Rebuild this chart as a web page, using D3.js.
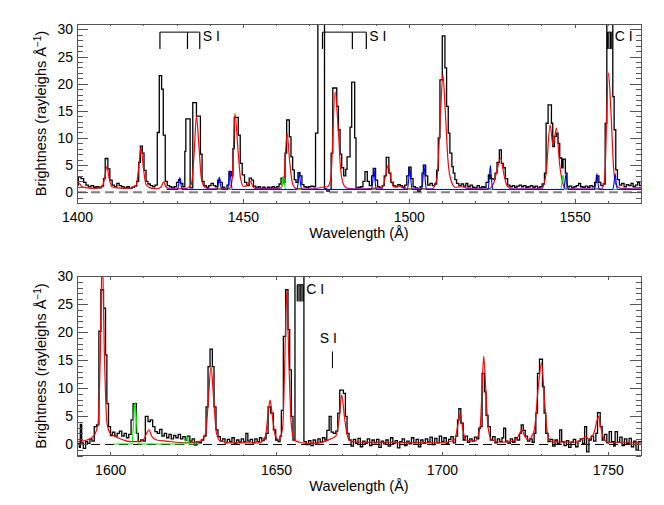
<!DOCTYPE html>
<html>
<head>
<meta charset="utf-8">
<script src="https://cdn.jsdelivr.net/npm/d3@7"></script>
<style>
  body { margin: 0; background: #fff; }
  text { font-family: 'Liberation Sans', Arial, Helvetica, sans-serif; fill: #000; }
</style>
</head>
<body>
<svg id="chart" width="664" height="505"></svg>
<script>
// ---- top panel (1400-1570 A) ----
// observed spectrum, histogram steps: [bin start wavelength, brightness]
var topObs = [
  [1400.0, 1.3], [1400.4, 2.8], [1401.2, 2.5], [1402.0, 1.8], [1402.7, 1.3], [1403.4, 1.0],
  [1404.2, 1.2], [1405.0, 0.9], [1405.8, 1.0], [1406.6, 0.8], [1407.3, 1.1], [1408.0, 2.5],
  [1408.5, 6.2], [1409.3, 4.3], [1409.9, 2.2], [1410.6, 1.3], [1411.3, 1.0], [1412.0, 1.6],
  [1412.7, 1.2], [1413.4, 1.0], [1414.2, 0.8], [1415.0, 1.0], [1415.8, 0.7], [1416.6, 0.9],
  [1417.3, 1.1], [1418.0, 2.0], [1418.6, 5.5], [1419.1, 8.5], [1419.7, 7.2], [1420.2, 4.0],
  [1420.8, 2.0], [1421.4, 1.5], [1422.1, 1.2], [1422.8, 1.0], [1423.5, 1.3], [1424.2, 11.0],
  [1424.8, 21.5], [1425.5, 19.0], [1426.0, 10.5], [1426.6, 2.0], [1427.2, 1.2], [1427.9, 1.0],
  [1428.6, 0.8], [1429.3, 1.0], [1430.0, 1.8], [1430.6, 2.3], [1431.2, 1.6], [1431.9, 1.0],
  [1432.5, 7.5], [1432.8, 13.5], [1434.1, 0.8], [1434.9, 16.5], [1436.0, 14.0], [1437.2, 7.0],
  [1437.7, 2.0], [1438.3, 1.2], [1439.0, 0.9], [1439.7, 1.2], [1440.4, 1.6], [1441.1, 1.2],
  [1441.8, 1.0], [1442.4, 2.2], [1443.1, 1.8], [1443.8, 0.9], [1444.5, 0.6], [1445.2, 1.3],
  [1445.8, 3.8], [1446.5, 3.0], [1447.0, 8.0], [1447.4, 13.8], [1448.6, 10.5], [1449.2, 5.3],
  [1449.8, 3.2], [1450.5, 1.8], [1451.2, 1.2], [1451.9, 2.6], [1452.6, 2.2], [1453.2, 1.1],
  [1453.9, 0.8], [1454.6, 1.0], [1455.3, 0.7], [1456.0, 0.9], [1456.7, 0.6], [1457.4, 0.9],
  [1458.1, 0.8], [1458.8, 1.0], [1459.5, 0.8], [1460.2, 1.0], [1460.9, 1.5], [1461.5, 2.6],
  [1462.2, 1.8], [1462.7, 7.2], [1463.2, 13.3], [1464.0, 10.2], [1464.5, 6.5], [1465.0, 4.1],
  [1465.5, 2.3], [1466.0, 1.8], [1466.6, 3.6], [1467.2, 3.0], [1467.8, 1.4], [1468.4, 1.0],
  [1469.1, 0.9], [1469.8, 1.0], [1470.5, 1.1], [1471.2, 1.0], [1471.9, 10.9], [1472.6, 45],
  [1474.6, 0.6], [1475.3, 0.2], [1476.0, 0.5], [1476.6, 7.2], [1477.1, 19.2], [1478.3, 15.8],
  [1478.8, 11.5], [1479.3, 7.0], [1479.8, 4.5], [1480.4, 3.0], [1481.0, 4.2], [1481.4, 6.5],
  [1482.3, 12.0], [1482.8, 20.3], [1483.7, 10.0], [1484.1, 0.8], [1484.8, 0.9], [1485.5, 1.0],
  [1486.2, 2.0], [1486.8, 3.8], [1487.5, 2.0], [1488.1, 1.2], [1488.8, 3.0], [1489.3, 4.4],
  [1490.0, 2.2], [1490.6, 1.0], [1491.3, 0.8], [1492.0, 1.2], [1492.6, 3.0], [1493.2, 6.4],
  [1494.0, 3.5], [1494.6, 1.8], [1495.3, 1.2], [1496.0, 1.0], [1496.7, 1.4], [1497.4, 1.2],
  [1498.1, 0.9], [1498.8, 1.3], [1499.4, 3.0], [1500.0, 4.6], [1500.7, 2.5], [1501.3, 1.0],
  [1502.0, 0.8], [1502.7, 0.2], [1503.4, 1.0], [1504.0, 3.5], [1504.4, 5.0], [1505.1, 3.0],
  [1505.7, 1.3], [1506.4, 1.6], [1507.1, 1.2], [1507.8, 1.5], [1508.4, 4.0], [1508.9, 10.0],
  [1509.4, 20.7], [1510.1, 28.8], [1510.9, 22.9], [1511.4, 15.8], [1511.9, 10.9], [1512.4, 7.2],
  [1513.0, 4.7], [1513.4, 3.5], [1513.9, 2.3], [1514.4, 1.6], [1515.1, 1.2], [1515.8, 1.5],
  [1516.5, 1.1], [1517.2, 1.6], [1517.8, 1.0], [1518.5, 1.3], [1519.2, 0.9], [1519.9, 0.8],
  [1520.6, 1.2], [1521.3, 0.8], [1522.0, 1.0], [1522.7, 0.9], [1523.3, 1.8], [1524.0, 3.2],
  [1524.7, 2.5], [1525.3, 2.4], [1526.0, 3.5], [1526.6, 5.5], [1527.3, 7.8], [1527.9, 5.3],
  [1528.5, 4.5], [1529.1, 2.5], [1529.8, 1.3], [1530.5, 1.0], [1531.2, 1.2], [1531.9, 0.9],
  [1532.6, 1.1], [1533.3, 1.3], [1534.0, 1.0], [1534.6, 1.2], [1535.3, 0.9], [1536.0, 1.0],
  [1536.7, 1.2], [1537.4, 0.9], [1538.1, 1.1], [1538.8, 0.8], [1539.5, 1.0], [1540.2, 1.5],
  [1540.9, 3.5], [1541.4, 12.7], [1542.0, 16.1], [1543.0, 12.7], [1543.4, 8.4], [1543.9, 10.3],
  [1544.5, 10.9], [1545.0, 9.0], [1545.5, 6.3], [1546.1, 4.5], [1546.5, 6.1], [1547.2, 3.5],
  [1547.7, 1.0], [1548.4, 1.1], [1549.1, 0.8], [1549.8, 1.0], [1550.5, 1.2], [1551.2, 1.6],
  [1551.8, 1.0], [1552.5, 0.9], [1553.2, 1.1], [1553.9, 0.9], [1554.6, 1.2], [1555.3, 1.0],
  [1556.0, 1.8], [1556.6, 3.0], [1557.3, 1.8], [1557.9, 1.2], [1558.6, 1.5], [1559.2, 12.7],
  [1559.7, 45], [1561.5, 17.6], [1561.9, 11.5], [1562.4, 4.1], [1562.9, 2.3], [1563.5, 1.3],
  [1564.2, 1.6], [1564.9, 1.0], [1565.6, 1.4], [1566.3, 1.2], [1567.0, 1.6], [1567.6, 1.0],
  [1568.3, 1.3], [1569.0, 1.8], [1569.6, 1.2], [1570.0, 1.2]
]

// total model fit (red)
var topModel = [
  [1400.0, 1.2], [1400.6, 1.6], [1401.5, 1.0], [1403, 0.8], [1406, 0.7], [1407.5, 0.9],
  [1408.3, 2.5], [1409.0, 4.7], [1409.7, 2.5], [1410.5, 1.0], [1412, 0.8], [1416, 0.7],
  [1417.8, 1.2], [1418.6, 4.5], [1419.3, 8.2], [1420.0, 4.5], [1420.8, 1.4], [1422, 0.8],
  [1424, 0.6], [1425.4, 1.0], [1426.1, 1.9], [1426.8, 1.0], [1428, 0.6], [1433, 0.7],
  [1434.5, 1.5], [1435.3, 7], [1436.0, 14.0], [1436.7, 9], [1437.5, 2.5], [1438.5, 0.9],
  [1440, 0.6], [1446, 0.7], [1446.8, 2.5], [1447.6, 14.5], [1448.5, 8], [1449.3, 2.5],
  [1450.3, 1.0], [1451.5, 1.4], [1452.3, 2.0], [1453.0, 1.0], [1454, 0.6], [1461, 0.7],
  [1462.3, 1.8], [1463.3, 10.8], [1464.2, 5], [1465.0, 1.5], [1466, 0.7], [1471, 0.6],
  [1474, 0.9], [1475.5, 1.0], [1476.5, 2.5], [1477.8, 18.5], [1478.7, 12], [1479.5, 4],
  [1480.5, 1.2], [1481.5, 0.7], [1486, 0.6], [1489, 0.7], [1492, 0.8], [1493.0, 3],
  [1493.8, 5.0], [1494.6, 2.5], [1495.5, 0.9], [1496.8, 1.2], [1497.5, 1.0], [1499, 0.6],
  [1507, 0.6], [1508.5, 2.5], [1509.6, 15], [1510.3, 21.6], [1511.0, 15], [1511.8, 6],
  [1512.8, 2], [1514, 0.9], [1516, 1.0], [1517, 0.8], [1520, 0.6], [1524, 0.6],
  [1525.5, 1.5], [1526.6, 4], [1527.7, 6.3], [1528.6, 3.5], [1529.6, 1.2], [1531, 0.6],
  [1540, 0.6], [1541.4, 3.5], [1542.6, 12.4], [1543.5, 8.5], [1544.5, 11.8], [1545.5, 5],
  [1546.5, 1.5], [1547.5, 0.6], [1558, 0.6], [1559, 2], [1560.2, 22.0], [1561.0, 14],
  [1561.8, 4], [1562.6, 1.2], [1564, 0.7], [1570, 0.6]
]

// single components (blue, green)
var topBlue = [
  [1427, 0.5], [1430.3, 0.5], [1430.7, 1.6], [1431.0, 2.7], [1431.3, 1.6], [1431.7, 0.5],
  [1442.2, 0.5], [1442.6, 1.6], [1442.9, 2.8], [1443.2, 1.6], [1443.6, 0.5],
  [1445.4, 0.5], [1445.8, 2.2], [1446.1, 4.0], [1446.4, 2.2], [1446.8, 0.5],
  [1466.3, 0.5], [1466.7, 2.0], [1467.0, 3.7], [1467.3, 2.0], [1467.7, 0.5],
  [1488.8, 0.5], [1489.2, 2.4], [1489.5, 4.4], [1489.8, 2.4], [1490.2, 0.5],
  [1499.6, 0.5], [1500.0, 2.5], [1500.3, 4.6], [1500.6, 2.5], [1501.0, 0.5],
  [1503.9, 0.5], [1504.3, 2.7], [1504.6, 5.0], [1504.9, 2.7], [1505.3, 0.5],
  [1523.9, 0.5], [1524.3, 2.7], [1524.6, 4.9], [1524.9, 2.7], [1525.3, 0.5],
  [1546.7, 0.5], [1547.1, 1.9], [1547.4, 3.4], [1547.7, 1.9], [1548.1, 0.5],
  [1556.0, 0.5], [1556.4, 1.9], [1556.7, 3.4], [1557.0, 1.9], [1557.4, 0.5],
  [1561.5, 0.5], [1561.9, 1.9], [1562.2, 3.4], [1562.5, 1.9], [1562.9, 0.5], [1570, 0.5]
]
var topGreen = [
  [1440, 0.5], [1461.5, 0.5], [1461.9, 1.7], [1462.2, 2.9], [1462.5, 1.7], [1462.9, 0.5],
  [1545.8, 0.5], [1546.2, 1.9], [1546.5, 3.2], [1546.8, 1.9], [1547.2, 0.5], [1570, 0.5]
]

// ---- bottom panel (1590-1760 A) ----
var botObs = [
  [1590.0, 0.2], [1590.7, -0.5], [1591.0, 3.6], [1591.4, 0.3], [1591.9, -0.7], [1592.6, 0.5],
  [1593.2, 0.2], [1593.9, 1.0], [1594.5, 0.6], [1595.2, 3.2], [1595.9, 3.5], [1596.6, 20.2],
  [1597.2, 27.6], [1598.0, 24.3], [1598.6, 16.0], [1599.0, 7.3], [1599.5, 3.2], [1600.1, 1.6],
  [1600.7, 2.2], [1601.4, 1.5], [1602.1, 2.0], [1602.8, 2.4], [1603.5, 1.5], [1604.2, 2.0],
  [1604.9, 1.2], [1605.6, 1.8], [1606.3, 4.4], [1606.9, 7.3], [1607.9, 2.0], [1608.5, 0.5],
  [1609.2, 0.8], [1609.9, 0.6], [1610.6, 5.0], [1611.4, 4.1], [1612.1, 4.4], [1612.8, 3.2],
  [1613.5, 2.3], [1614.2, 2.0], [1614.9, 2.7], [1615.6, 1.5], [1616.3, 2.0], [1617.0, 1.2],
  [1617.7, 1.8], [1618.4, 1.0], [1619.1, 1.6], [1619.8, 1.2], [1620.5, 1.8], [1621.2, 1.0],
  [1621.9, 1.4], [1622.6, 0.8], [1623.3, 1.5], [1624.0, 0.6], [1624.7, 1.0], [1625.4, -0.1],
  [1626.1, 0.5], [1626.8, 0.3], [1627.5, 0.8], [1628.2, 1.5], [1628.9, 6.7], [1629.5, 13.9],
  [1630.1, 17.0], [1630.8, 13.9], [1631.3, 6.7], [1631.9, 2.6], [1632.5, 1.4], [1633.2, 0.6],
  [1633.9, 1.0], [1634.6, 0.3], [1635.3, 0.9], [1636.0, 0.5], [1636.7, 1.2], [1637.4, 0.2],
  [1638.1, 0.8], [1638.8, 0.4], [1639.5, 1.0], [1640.2, 0.5], [1640.9, 2.0], [1641.5, 0.6],
  [1642.2, 0.9], [1642.9, 0.3], [1643.6, 1.0], [1644.3, 0.5], [1645.0, 1.2], [1645.7, 0.7],
  [1646.4, 1.0], [1647.0, 2.0], [1647.6, 6.7], [1648.4, 5.6], [1649.2, 2.6], [1649.9, 0.8],
  [1650.6, 0.5], [1651.2, 1.5], [1651.6, 6.1], [1652.2, 19.3], [1652.9, 27.6], [1653.6, 20.5],
  [1654.1, 13.3], [1654.6, 5.0], [1655.1, 0.8], [1655.7, 45], [1658.4, 0.5], [1659.1, 0.0],
  [1659.8, 0.7], [1660.5, -0.2], [1661.2, 0.8], [1661.9, 0.3], [1662.6, 1.0], [1663.3, 0.4],
  [1664.0, 1.2], [1664.7, 0.8], [1665.3, 2.5], [1666.0, 5.0], [1666.6, 2.2], [1667.3, 2.0],
  [1668.0, 2.4], [1668.6, 5.6], [1669.2, 9.7], [1670.3, 9.1], [1670.9, 5.0], [1671.4, 2.0],
  [1672.0, 0.8], [1672.6, -0.3], [1673.3, 0.9], [1674.0, 0.2], [1674.7, 1.1], [1675.4, -0.4],
  [1676.1, 0.6], [1676.8, 0.2], [1677.5, 1.0], [1678.2, -0.2], [1678.9, 0.8], [1679.6, 0.3],
  [1680.3, 0.9], [1681.0, -0.5], [1681.7, 0.6], [1682.4, 0.1], [1683.1, 0.8], [1683.8, -0.3],
  [1684.5, 1.2], [1685.2, 0.2], [1685.9, 0.7], [1686.6, -0.6], [1687.3, 0.5], [1688.0, 1.0],
  [1688.7, -0.2], [1689.4, 0.6], [1690.1, 0.1], [1690.8, 1.2], [1691.5, 0.3], [1692.2, 0.9],
  [1692.9, -0.4], [1693.6, 0.8], [1694.3, 0.2], [1695.0, 1.0], [1695.7, 0.4], [1696.4, 1.3],
  [1697.1, 0.0], [1697.8, 1.1], [1698.5, 0.3], [1699.2, 1.5], [1699.9, 0.5], [1700.6, 1.2],
  [1701.3, 0.2], [1702.0, 0.9], [1702.7, 1.4], [1703.4, 0.3], [1704.1, 1.5], [1704.7, 4.4],
  [1705.1, 6.4], [1705.7, 3.8], [1706.4, 0.8], [1707.0, 1.5], [1707.7, 0.4], [1708.4, 1.0],
  [1709.1, 0.6], [1709.8, 1.3], [1710.5, 1.0], [1711.1, 2.9], [1711.6, 3.2], [1712.1, 12.7],
  [1712.8, 9.4], [1713.3, 5.2], [1713.9, 3.2], [1714.6, 0.8], [1715.3, 1.4], [1716.0, 0.3],
  [1716.7, 1.0], [1717.4, 0.5], [1718.1, 1.2], [1718.6, 2.9], [1719.2, 0.6], [1719.9, 0.2],
  [1720.6, 1.0], [1721.3, 0.4], [1722.0, 1.2], [1722.7, 0.8], [1723.4, 2.0], [1723.9, 3.5],
  [1724.5, 2.5], [1725.1, 1.5], [1725.8, 0.6], [1726.5, 1.0], [1727.2, 0.4], [1727.8, 2.0],
  [1728.3, 5.6], [1728.8, 12.7], [1729.4, 15.2], [1730.3, 10.3], [1730.8, 5.6], [1731.3, 2.0],
  [1732.0, 0.5], [1732.7, 0.9], [1733.4, -0.3], [1734.1, 0.8], [1734.8, 0.2], [1735.5, 2.6],
  [1736.1, 0.5], [1736.8, -0.2], [1737.5, 0.7], [1738.2, -0.5], [1738.9, 0.4], [1739.6, 0.9],
  [1740.3, -0.4], [1741.0, 0.6], [1741.7, 1.0], [1742.4, 0.2], [1743.0, 3.2], [1743.6, -1.3],
  [1744.3, 0.8], [1745.0, 1.5], [1745.7, 0.6], [1746.4, 2.0], [1746.9, 5.7], [1747.7, 3.2],
  [1748.3, 0.8], [1749.0, 1.8], [1749.7, 0.3], [1750.4, 2.3], [1751.1, 0.5], [1751.8, -0.3],
  [1752.2, 2.3], [1752.9, 0.4], [1753.6, 1.3], [1754.3, -0.2], [1755.0, 1.0], [1755.7, 0.2],
  [1756.4, 1.1], [1757.1, -0.4], [1757.8, 0.6], [1758.5, -1.0], [1759.2, 0.5], [1760.0, 0.5]
]

var botModel = [
  [1590, 0.5], [1593, 0.8], [1595, 1.5], [1596.3, 3.5], [1597.0, 15], [1597.6, 34],
  [1598.3, 15], [1599.0, 4], [1600, 2.0], [1602, 1.3], [1604, 0.8], [1606, 0.5],
  [1608, 0.5], [1610, 0.8], [1611.0, 2.0], [1611.7, 2.6], [1612.5, 1.5], [1614, 0.8],
  [1617, 0.6], [1620, 0.4], [1623, 0.3], [1627, 0.5], [1628.8, 2], [1629.6, 8],
  [1630.4, 13.9], [1631.2, 8], [1632.0, 2.2], [1633, 0.7], [1636, 0.3], [1645, 0.3],
  [1646.8, 1.5], [1647.6, 5.5], [1648.2, 7.9], [1648.9, 5], [1649.8, 1.5], [1650.8, 0.8],
  [1652.0, 3], [1652.6, 14], [1653.2, 27.3], [1653.9, 14], [1654.6, 3.5], [1655.5, 0.8],
  [1657, 0.4], [1659, 0.2], [1663, 0.3], [1665, 0.6], [1666.5, 1.0], [1668, 1.5],
  [1669.0, 4.5], [1669.8, 8.8], [1670.6, 5], [1671.5, 1.5], [1672.5, 0.6], [1675, 0.4],
  [1700, 0.3], [1703.8, 0.8], [1704.8, 3.5], [1705.5, 5.5], [1706.2, 3], [1707.2, 0.8],
  [1710, 0.6], [1711.5, 3], [1712.1, 10], [1712.6, 15.7], [1713.2, 10], [1713.9, 3],
  [1715, 0.8], [1718, 0.4], [1722, 0.7], [1723.3, 1.8], [1724.1, 2.6], [1724.9, 1.5],
  [1726, 0.8], [1727.8, 2.5], [1729.0, 10], [1730.0, 14.5], [1730.9, 8], [1731.8, 2],
  [1733, 0.5], [1740, 0.4], [1742.5, 1.0], [1743.3, 1.4], [1744.2, 1.0], [1745.8, 2],
  [1746.6, 4], [1747.2, 5.0], [1747.9, 3], [1748.8, 1], [1750, 0.4], [1760, 0.3]
]

var botGreen = [
  [1601, 0.1], [1606.6, 0.1], [1607.0, 3.5], [1607.5, 7.6], [1608.0, 3.5], [1608.4, 0.1],
  [1622.4, 0.1], [1622.8, 0.8], [1623.1, 1.4], [1623.4, 0.8], [1623.8, 0.1], [1627, 0.1]
]

// line identifications
var topMarks = [
  { name: 'S I', lines: [1425.0, 1433.3, 1437.0] },
  { name: 'S I', lines: [1474.0, 1483.0, 1487.2] },
  { name: 'C I', lines: [1559.9, 1560.3, 1560.8, 1561.2] }
]
var botMarks = [
  { name: 'C I', lines: [1656.4, 1656.9, 1657.3, 1657.8, 1658.2] }
]
var botSI = { name: 'S I', line: 1667.0 }

var topTicks = [1400, 1450, 1500, 1550]
var botTicks = [1600, 1650, 1700, 1750]
var yTicks = [0, 5, 10, 15, 20, 25, 30]

var svg = d3.select('#chart')
var left = 77, right = 641

function drawPanel(p) {
  var x = d3.scaleLinear().domain(p.xDomain).range([left, right])
  var y = d3.scaleLinear().domain(p.yDomain).range([p.bottom, p.top])

  svg.append('clipPath').attr('id', 'clip' + p.id)
    .append('rect')
    .attr('x', left).attr('y', p.top)
    .attr('width', right - left).attr('height', p.bottom - p.top)

  var plot = svg.append('g').attr('clip-path', 'url(#clip' + p.id + ')')

  var smooth = d3.line().x(d => x(d[0])).y(d => y(d[1])).curve(d3.curveMonotoneX)
  var step = d3.line().x(d => x(d[0])).y(d => y(d[1])).curve(d3.curveStepAfter)

  // zero line
  plot.append('line')
    .attr('x1', left).attr('x2', right)
    .attr('y1', y(0)).attr('y2', y(0))
    .attr('stroke', p.zeroColor)
    .attr('stroke-width', p.zeroWidth)
    .attr('stroke-dasharray', '9,5')

  plot.append('path').datum(p.obs).attr('d', step)
    .attr('fill', 'none').attr('stroke', '#000').attr('stroke-width', 1.3)

  plot.append('path').datum(p.model).attr('d', smooth)
    .attr('fill', 'none').attr('stroke', '#ff0000').attr('stroke-width', 1.2)

  if (p.green) {
    plot.append('path').datum(p.green).attr('d', smooth)
      .attr('fill', 'none').attr('stroke', '#00ee00').attr('stroke-width', 1.1)
  }
  if (p.blue) {
    plot.append('path').datum(p.blue).attr('d', smooth)
      .attr('fill', 'none').attr('stroke', '#0000ff').attr('stroke-width', 1.1)
  }

  // line id brackets
  p.marks.forEach(function(m) {
    var ya = y(p.markTop), yb = y(p.markBottom)
    svg.append('line')
      .attr('x1', x(m.lines[0])).attr('x2', x(m.lines[m.lines.length - 1]))
      .attr('y1', ya).attr('y2', ya)
      .attr('stroke', '#000').attr('stroke-width', 1)
    m.lines.forEach(function(l) {
      svg.append('line')
        .attr('x1', x(l)).attr('x2', x(l))
        .attr('y1', ya).attr('y2', yb)
        .attr('stroke', '#000').attr('stroke-width', 1.2)
    })
    svg.append('text')
      .attr('x', x(m.lines[m.lines.length - 1]) + 3)
      .attr('y', ya + 9)
      .style('font-size', '14px')
      .text(m.name)
  })

  // axes, IDL style ticks on all four sides pointing inward
  var minorX = d3.range(p.xDomain[0], p.xDomain[1] + 1, 10).filter(v => p.xTicks.indexOf(v) < 0)
  var minorY = d3.range(Math.ceil(p.yDomain[0]), p.yDomain[1] + 1, 1).filter(v => yTicks.indexOf(v) < 0)

  var axes = svg.append('g').attr('class', 'axes')

  axes.append('g').attr('transform', 'translate(0,' + p.bottom + ')')
    .call(d3.axisBottom(x).tickValues(p.xTicks).tickSize(-4).tickPadding(9).tickFormat(d3.format('d')))
  axes.append('g').attr('transform', 'translate(0,' + p.bottom + ')')
    .call(d3.axisBottom(x).tickValues(minorX).tickSize(-2).tickFormat(''))
  axes.append('g').attr('transform', 'translate(0,' + p.top + ')')
    .call(d3.axisTop(x).tickValues(p.xTicks).tickSize(-4).tickFormat(''))
  axes.append('g').attr('transform', 'translate(0,' + p.top + ')')
    .call(d3.axisTop(x).tickValues(minorX).tickSize(-2).tickFormat(''))

  axes.append('g').attr('transform', 'translate(' + left + ',0)')
    .call(d3.axisLeft(y).tickValues(yTicks).tickSize(-11).tickPadding(4))
  axes.append('g').attr('transform', 'translate(' + left + ',0)')
    .call(d3.axisLeft(y).tickValues(minorY).tickSize(-5.5).tickFormat(''))
  axes.append('g').attr('transform', 'translate(' + right + ',0)')
    .call(d3.axisRight(y).tickValues(yTicks).tickSize(-11).tickFormat(''))
  axes.append('g').attr('transform', 'translate(' + right + ',0)')
    .call(d3.axisRight(y).tickValues(minorY).tickSize(-5.5).tickFormat(''))

  axes.selectAll('.domain').remove()
  axes.selectAll('line').attr('stroke', '#555').attr('shape-rendering', 'crispEdges')
  axes.selectAll('text').style('font-size', '14px').style('font-family', "'Liberation Sans', Arial, sans-serif").attr('fill', '#000')

  axes.append('rect')
    .attr('x', left).attr('y', p.top)
    .attr('width', right - left).attr('height', p.bottom - p.top)
    .attr('fill', 'none').attr('stroke', '#555').attr('shape-rendering', 'crispEdges')

  svg.append('text')
    .attr('x', (left + right) / 2).attr('y', p.bottom + 35)
    .attr('text-anchor', 'middle')
    .style('font-size', '14.5px')
    .text('Wavelength (Å)')

  var yl = svg.append('text')
    .attr('transform', 'translate(46,' + (p.top + p.bottom) / 2 + ') rotate(-90)')
    .attr('text-anchor', 'middle')
    .style('font-size', '14.5px')
  yl.append('tspan').text('Brightness (rayleighs Å')
  yl.append('tspan').attr('dy', -5).style('font-size', '10px').text('−1')
  yl.append('tspan').attr('dy', 5).text(')')

  return { x: x, y: y }
}

drawPanel({
  id: 'top', top: 24, bottom: 203,
  xDomain: [1400, 1570], yDomain: [-2, 31], xTicks: topTicks,
  obs: topObs, model: topModel, blue: topBlue, green: topGreen,
  zeroColor: '#808080', zeroWidth: 2,
  marks: topMarks, markTop: 29.5, markBottom: 26.4
})

var bot = drawPanel({
  id: 'bot', top: 276.3, bottom: 455.7,
  xDomain: [1590, 1760], yDomain: [-2, 30], xTicks: botTicks,
  obs: botObs, model: botModel, green: botGreen,
  zeroColor: '#000', zeroWidth: 1,
  marks: botMarks, markTop: 28.5, markBottom: 25.5
})

// lone S I mark in the lower panel
svg.append('line')
  .attr('x1', bot.x(botSI.line)).attr('x2', bot.x(botSI.line))
  .attr('y1', bot.y(16.6)).attr('y2', bot.y(13.6))
  .attr('stroke', '#000').attr('stroke-width', 1)
svg.append('text')
  .attr('x', bot.x(botSI.line) + 4.5)
  .attr('y', bot.y(16.6) - 8.5)
  .attr('text-anchor', 'end')
  .style('font-size', '14px')
  .text(botSI.name)
</script>
</body>
</html>
